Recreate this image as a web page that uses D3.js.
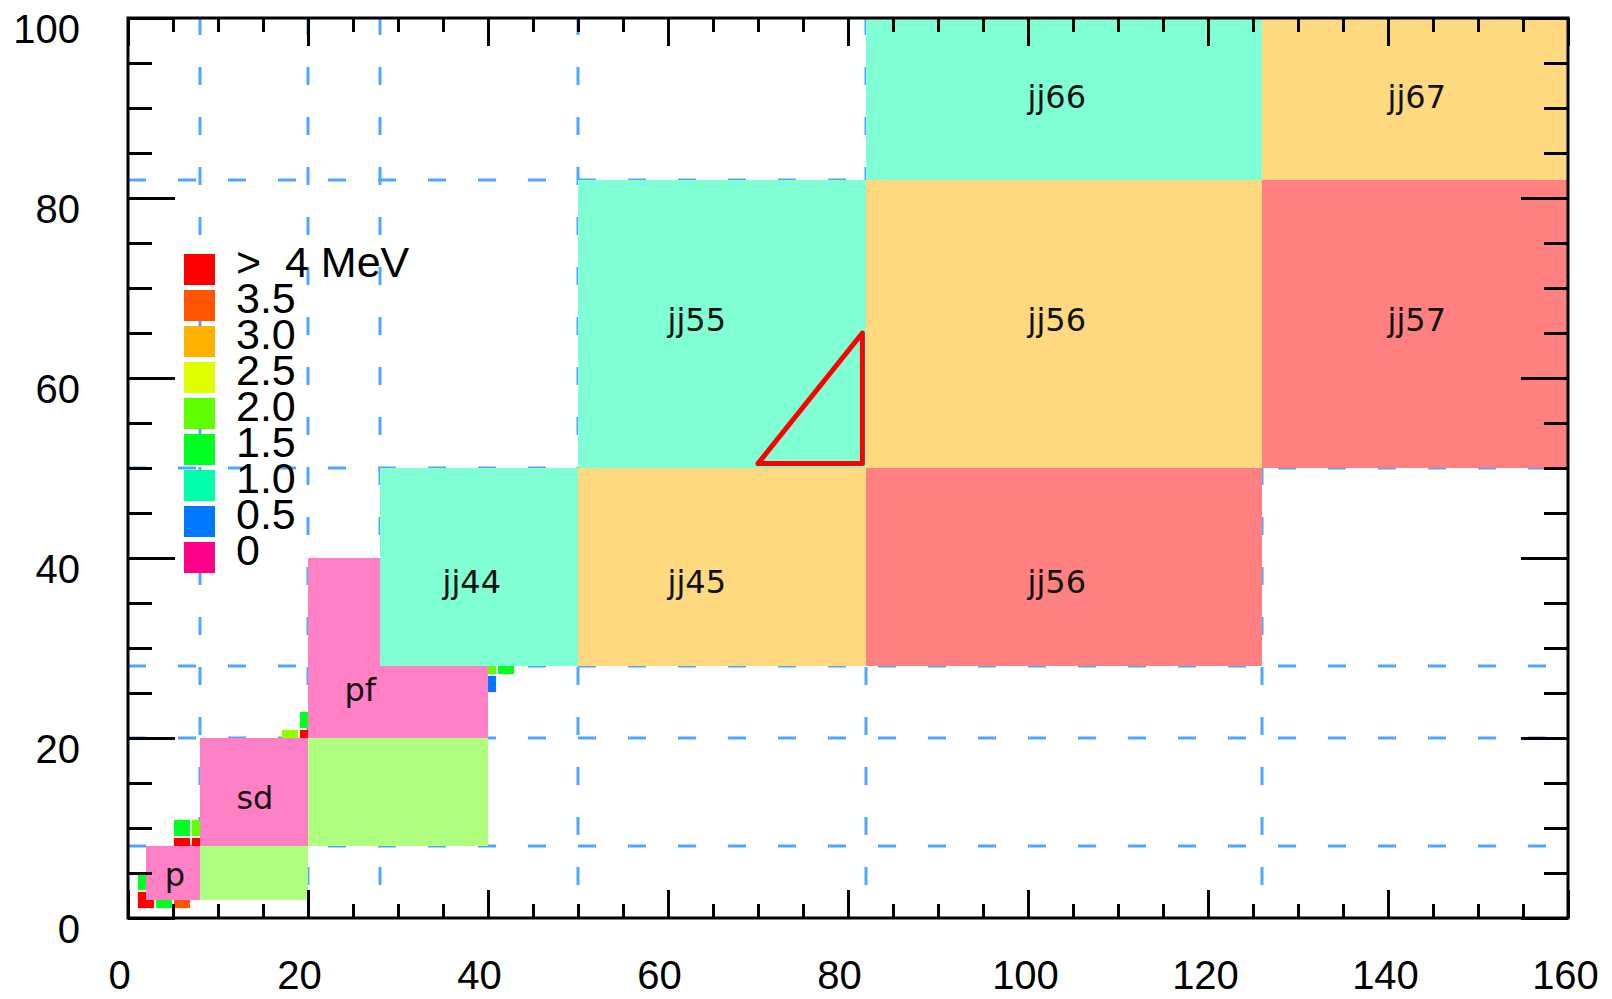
<!DOCTYPE html>
<html>
<head>
<meta charset="utf-8">
<script src="https://cdn.jsdelivr.net/npm/d3@7"></script>
<style>
  html, body { margin: 0; padding: 0; background: #fff; }
  svg { display: block; }
</style>
</head>
<body>
<script>
// ---- data -------------------------------------------------------------
// Shell-gap colour key (MeV): stop values and their labels
const gapStops   = [4, 3.5, 3.0, 2.5, 2.0, 1.5, 1.0, 0.5, 0];
const gapLabels  = [">  4 MeV", "3.5", "3.0", "2.5", "2.0", "1.5", "1.0", "0.5", "0"];
const gapColours = ["#ff0000", "#ff5500", "#ffb300", "#ddff00", "#60ff00",
                    "#00ff22", "#00ffaa", "#0077ff", "#ff0088"];

// Shell blocks in (N, Z): name, N range, Z range, gap value
const blockNames = ["p", "", "sd", "", "pf", "jj44", "jj45", "jj56", "jj55", "jj56", "jj57", "jj66", "jj67"];
const blockN     = [[2, 8], [8, 20], [8, 20], [20, 40], [20, 40], [28, 50], [50, 82], [82, 126],
                    [50, 82], [82, 126], [126, 160], [82, 126], [126, 160]];
const blockZ     = [[2, 8], [2, 8], [8, 20], [8, 20], [20, 40], [28, 50], [28, 50], [28, 50],
                    [50, 82], [50, 82], [50, 82], [82, 100], [82, 100]];
const blockGap   = [0, 2, 0, 2, 0, 1, 3, 4, 1, 3, 4, 1, 3];
// Label anchor of each block (N, Z)
const labelN     = [5.2, null, 14.1, null, 25.8, 38.2, 63.2, 103.2, 63.2, 103.2, 143.2, 103.2, 143.2];
const labelZ     = [4.8, null, 13.3, null, 25.3, 37.3, 37.3, 37.3, 66.5, 66.5, 66.5, 91.2, 91.2];

// Individual even-even nuclei (N, Z, gap)
const nucN   = [2, 4, 6, 2, 6, 8, 6, 8, 18, 20, 20, 40, 40, 42];
const nucZ   = [2, 2, 2, 4, 8, 8, 10, 10, 20, 20, 22, 26, 28, 28];
const nucGap = [4.5, 1.5, 3.5, 1.5, 4.5, 4.5, 1.5, 2.0, 2.2, 4.5, 1.5, 0.5, 2.0, 1.5];

// Magic numbers drawn as reference lines
const magicN = [8, 20, 28, 50, 82, 126];
const magicZ = [8, 20, 28, 50, 82];

// Highlighted region
const triN = [70, 81.6, 81.6, 70];
const triZ = [50.5, 50.5, 65, 50.5];

// Axis ticks
const xMajor = [0, 20, 40, 60, 80, 100, 120, 140, 160];
const yMajor = [0, 20, 40, 60, 80, 100];
const xMinor = d3.range(0, 161, 5);
const yMinor = d3.range(0, 101, 5);

// ---- layout -----------------------------------------------------------
const W = 1612, H = 999;
const x = d3.scaleLinear([0, 160], [128, 1568]);
const y = d3.scaleLinear([0, 100], [918, 18]);

const colour = d3.scaleLinear()
  .domain(gapStops.slice().reverse())
  .range(gapColours.slice().reverse())
  .clamp(true);
const pale = v => d3.interpolateRgb(colour(v), "#ffffff")(0.5);

const svg = d3.select("body").append("svg")
  .attr("width", W).attr("height", H);

svg.append("rect").attr("width", W).attr("height", H).attr("fill", "#fff");

svg.append("defs").append("clipPath").attr("id", "plot")
  .append("rect")
  .attr("x", x(0)).attr("y", y(100))
  .attr("width", x(160) - x(0)).attr("height", y(0) - y(100));

const plot = svg.append("g").attr("clip-path", "url(#plot)");

// magic-number reference lines
const dashStyle = sel => sel
  .attr("stroke", "#4ea6ff").attr("stroke-width", 3)
  .attr("stroke-dasharray", "18 32").attr("fill", "none");

plot.selectAll("line.vn").data(magicN).join("line")
  .attr("class", "vn")
  .attr("x1", d => x(d)).attr("x2", d => x(d))
  .attr("y1", y(100) - 1).attr("y2", y(0))
  .call(dashStyle);

plot.selectAll("line.hz").data(magicZ).join("line")
  .attr("class", "hz")
  .attr("x1", x(0)).attr("x2", x(160))
  .attr("y1", d => y(d)).attr("y2", d => y(d))
  .call(dashStyle);

// nuclei
const cell = 1.8;
plot.selectAll("rect.nuc").data(nucN.map((n, i) => ({ n, z: nucZ[i], g: nucGap[i] })))
  .join("rect")
  .attr("class", "nuc")
  .attr("x", d => x(d.n - cell / 2))
  .attr("y", d => y(d.z + cell / 2))
  .attr("width", d => x(d.n + cell / 2) - x(d.n - cell / 2))
  .attr("height", d => y(d.z - cell / 2) - y(d.z + cell / 2))
  .attr("fill", d => colour(d.g));

// shell blocks
const blocks = blockNames.map((name, i) => ({
  name, n: blockN[i], z: blockZ[i], g: blockGap[i], ln: labelN[i], lz: labelZ[i]
}));

plot.selectAll("rect.blk").data(blocks).join("rect")
  .attr("class", "blk")
  .attr("x", d => x(d.n[0]))
  .attr("y", d => y(d.z[1]))
  .attr("width", d => x(d.n[1]) - x(d.n[0]))
  .attr("height", d => y(d.z[0]) - y(d.z[1]))
  .attr("fill", d => pale(d.g));

plot.selectAll("text.blk").data(blocks.filter(d => d.name)).join("text")
  .attr("class", "blk")
  .attr("x", d => x(d.ln))
  .attr("y", d => y(d.lz))
  .attr("text-anchor", "middle")
  .attr("dominant-baseline", "central")
  .attr("font-family", "'DejaVu Sans', sans-serif")
  .attr("font-size", 32)
  .attr("fill", "#111")
  .text(d => d.name);

// highlighted triangle
svg.append("path")
  .datum(triN.map((n, i) => [n, triZ[i]]))
  .attr("d", d3.line().x(d => x(d[0])).y(d => y(d[1])))
  .attr("fill", "none")
  .attr("stroke", "#ff0000")
  .attr("stroke-width", 5)
  .attr("stroke-linejoin", "round")
  .attr("stroke-linecap", "round");

// colour key
const key = svg.append("g").attr("transform", "translate(184,254)");
const step = 36;
key.selectAll("rect").data(gapStops).join("rect")
  .attr("x", 0)
  .attr("y", (d, i) => i * step)
  .attr("width", 31).attr("height", 31)
  .attr("fill", d => colour(d));
key.selectAll("text").data(gapLabels).join("text")
  .attr("x", 52)
  .attr("y", (d, i) => i * step + 23)
  .attr("font-family", "'Liberation Sans', Arial, sans-serif")
  .attr("font-size", 43)
  .attr("fill", "#000")
  .attr("xml:space", "preserve")
  .style("white-space", "pre")
  .text(d => d);

// axes
const axisStyle = g => {
  g.select(".domain").remove();
  g.selectAll(".tick line").attr("stroke", "#000").attr("stroke-width", 3);
};
const labelFont = g => g.selectAll("text")
  .attr("font-family", "'Liberation Sans', Arial, sans-serif")
  .attr("font-size", 40)
  .attr("fill", "#000");

svg.append("g").attr("transform", `translate(0,${y(0)})`)
  .call(d3.axisBottom(x).tickValues(xMinor).tickSize(-14).tickFormat(""))
  .call(axisStyle);
svg.append("g").attr("transform", `translate(0,${y(0)})`)
  .call(d3.axisBottom(x).tickValues(xMajor).tickSize(-28).tickFormat(d3.format("d")))
  .call(axisStyle)
  .call(labelFont)
  .call(g => g.selectAll("text")
    .attr("y", 71).attr("dy", 0)
    .attr("dx", d => String(d).length > 2 ? -3 : -9));

svg.append("g").attr("transform", `translate(0,${y(100)})`)
  .call(d3.axisTop(x).tickValues(xMinor).tickSize(-14).tickFormat(""))
  .call(axisStyle);
svg.append("g").attr("transform", `translate(0,${y(100)})`)
  .call(d3.axisTop(x).tickValues(xMajor).tickSize(-28).tickFormat(""))
  .call(axisStyle);

svg.append("g").attr("transform", `translate(${x(0)},0)`)
  .call(d3.axisLeft(y).tickValues(yMinor).tickSize(-24).tickFormat(""))
  .call(axisStyle);
svg.append("g").attr("transform", `translate(${x(0)},0)`)
  .call(d3.axisLeft(y).tickValues(yMajor).tickSize(-47).tickFormat(d3.format("d")))
  .call(axisStyle)
  .call(labelFont)
  .call(g => g.selectAll("text")
    .attr("x", -48).attr("y", 24).attr("dy", 0)
    .attr("text-anchor", "end"));

svg.append("g").attr("transform", `translate(${x(160)},0)`)
  .call(d3.axisRight(y).tickValues(yMinor).tickSize(-24).tickFormat(""))
  .call(axisStyle);
svg.append("g").attr("transform", `translate(${x(160)},0)`)
  .call(d3.axisRight(y).tickValues(yMajor).tickSize(-47).tickFormat(""))
  .call(axisStyle);

svg.append("rect")
  .attr("x", x(0)).attr("y", y(100))
  .attr("width", x(160) - x(0)).attr("height", y(0) - y(100))
  .attr("fill", "none").attr("stroke", "#000").attr("stroke-width", 3);
</script>
</body>
</html>
